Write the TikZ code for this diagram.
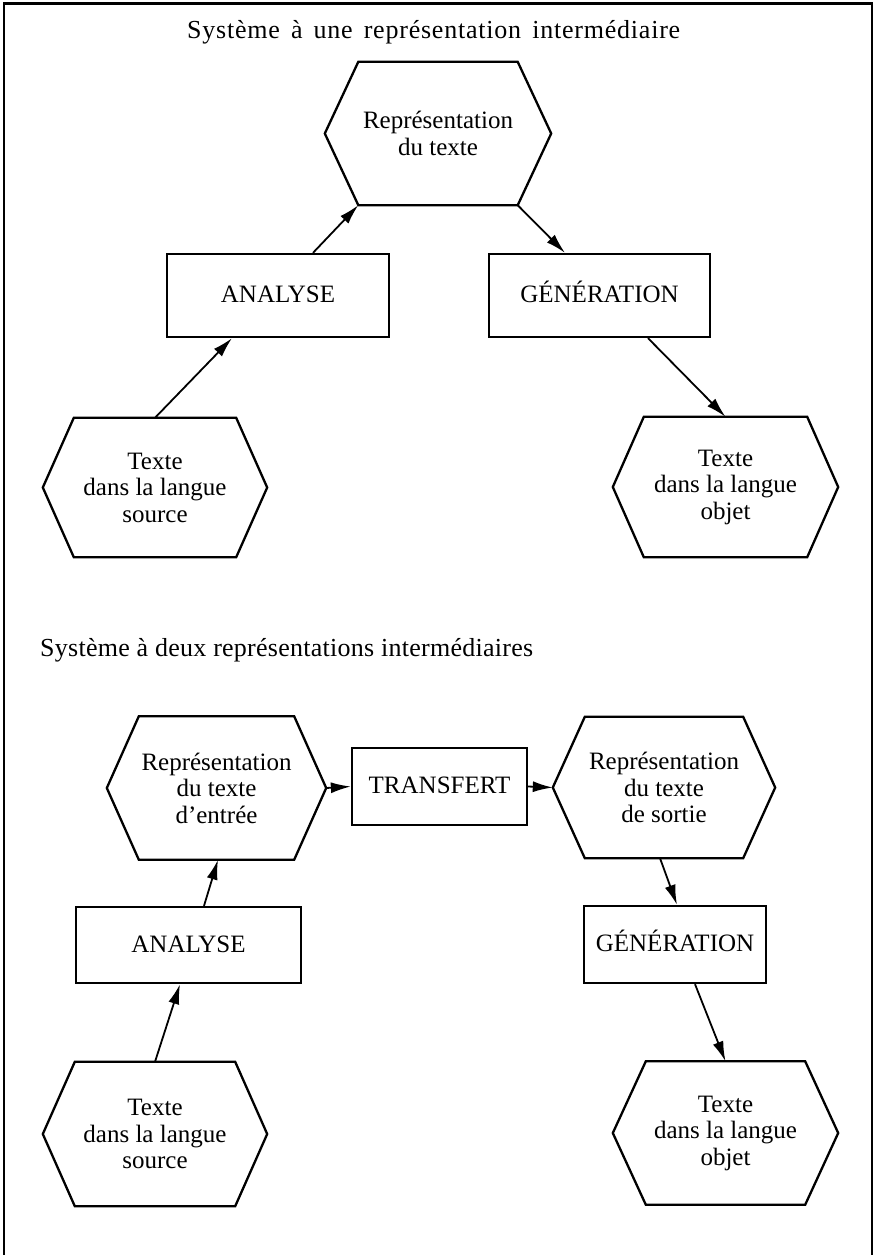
\documentclass[tikz,border=0pt]{standalone}
\usepackage{fontspec}
\setmainfont{Liberation Serif}
\usetikzlibrary{arrows.meta}
\newcommand{\hexdraw}[2]{\draw[shapeline] (#1.west) -- ([xshift=#2]#1.north west) -- ([xshift=-#2]#1.north east) -- (#1.east) -- ([xshift=-#2]#1.south east) -- ([xshift=#2]#1.south west) -- cycle;}
\tikzset{
  shapeline/.style={line width=2.3pt, line join=miter},
  boxnode/.style={draw, line width=2.3pt, inner sep=0pt, text height=14pt, text depth=0pt, font=\fontsize{25}{27}\selectfont},
  hexnode/.style={inner sep=0pt, align=center, font=\fontsize{25}{26.5}\selectfont},
  titlenode/.style={inner sep=0pt, anchor=base west, font=\fontsize{26}{28}\selectfont},
  conn/.style={line width=1.8pt, -{Latex[length=20pt,width=11pt]}},
  framestyle/.style={line width=2.3pt}
}
\begin{document}
\begin{tikzpicture}[x=1pt,y=-1pt]
\useasboundingbox (0,0) rectangle (876,1255);
\draw[framestyle] (4,1256) -- (4,3.5) -- (872,3.5) -- (872,1256);

% ---- Section 1
\node[titlenode] (title1) at (187,38) {\addfontfeatures{LetterSpace=3}\makebox[493pt][s]{Système à une représentation intermédiaire}};
\node[hexnode, font=\fontsize{25}{27.5}\selectfont, minimum width=226pt, minimum height=143pt] (H1) at (438,133.5) {Représentation\\du texte};
\hexdraw{H1}{33.5pt}
\node[boxnode, minimum width=222pt, minimum height=83pt] (A1) at (278,295.5) {ANALYSE};
\node[boxnode, minimum width=221pt, minimum height=83pt] (G1) at (599.5,295.5) {GÉNÉRATION};
\node[hexnode, minimum width=224pt, minimum height=139pt] (T1) at (155,487.5) {Texte\\dans la langue\\source};
\hexdraw{T1}{31pt}
\node[hexnode, minimum width=225pt, minimum height=140pt] (T2) at (725.5,487) {Texte\\dans la langue\\objet};
\hexdraw{T2}{31pt}

\draw[conn] ([xshift=35pt]A1.north) -- ([xshift=33.5pt]H1.south west);
\draw[conn] ([xshift=-33.5pt]H1.south east) -- ([xshift=-34.5pt]G1.north);
\draw[conn] (T1.north) -- ([xshift=-46pt]A1.south);
\draw[conn] ([xshift=48.5pt]G1.south) -- (T2.north);

% ---- Section 2
\node[titlenode] (title2) at (40,656) {\addfontfeatures{LetterSpace=1}\makebox[493pt][s]{Système à deux représentations intermédiaires}};
\node[hexnode, minimum width=219pt, minimum height=143pt] (H2) at (216.5,788) {Représentation\\du texte\\d’entrée};
\hexdraw{H2}{32pt}
\node[boxnode, minimum width=175pt, minimum height=77pt] (TR) at (439.5,786.5) {TRANSFERT};
\node[hexnode, minimum width=222pt, minimum height=141pt] (H3) at (664,787.5) {Représentation\\du texte\\de sortie};
\hexdraw{H3}{32pt}
\node[boxnode, minimum width=225pt, minimum height=76pt] (A2) at (188.5,945) {ANALYSE};
\node[boxnode, minimum width=182pt, minimum height=77pt] (G2) at (675,944.5) {GÉNÉRATION};
\node[hexnode, minimum width=224pt, minimum height=144pt] (T3) at (155,1134) {Texte\\dans la langue\\source};
\hexdraw{T3}{32pt}
\node[hexnode, minimum width=225pt, minimum height=143pt] (T4) at (725.5,1133) {Texte\\dans la langue\\objet};
\hexdraw{T4}{33pt}

\draw[conn] (T3.north) -- ([xshift=-8.5pt]A2.south);
\draw[conn] ([xshift=15.5pt]A2.north) -- ([xshift=1.5pt]H2.south);
\draw[conn] (H2.east) -- (TR.west);
\draw[conn] (TR.east) -- (H3.west);
\draw[conn] ([xshift=-4pt]H3.south) -- ([xshift=2pt]G2.north);
\draw[conn] ([xshift=20pt]G2.south) -- (T4.north);
\end{tikzpicture}
\end{document}
